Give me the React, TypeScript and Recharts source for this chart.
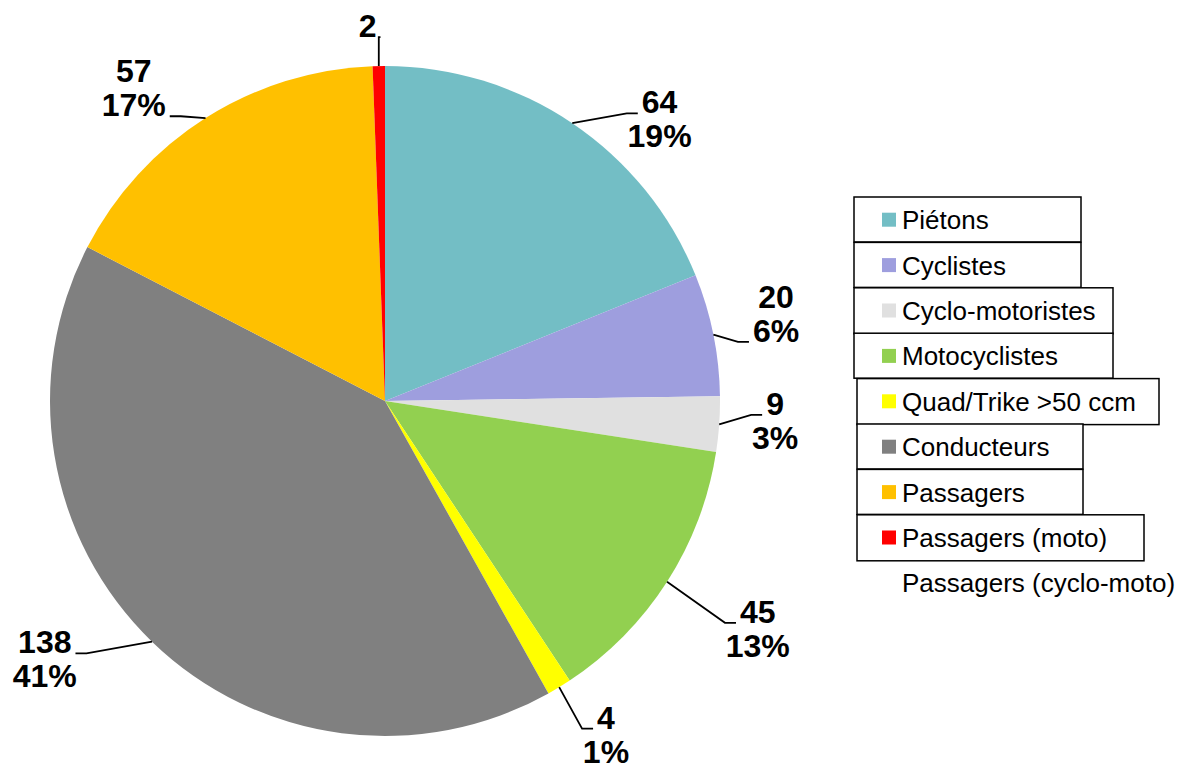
import React from 'react';
import { PieChart, Pie, Cell, Legend } from 'recharts';

const categories = [
  'Piétons',
  'Cyclistes',
  'Cyclo-motoristes',
  'Motocyclistes',
  'Quad/Trike >50 ccm',
  'Conducteurs',
  'Passagers',
  'Passagers (moto)',
  'Passagers (cyclo-moto)',
];
const values = [64, 20, 9, 45, 4, 138, 57, 2, 0];
const colors = ['#73BEC5', '#9E9EDE', '#E0E0E0', '#92D050', '#FFFF00', '#808080', '#FFC000', '#FF0000', 'none'];

// label layout tweaks (offsets from radial position)
const labelNudge: [number, number][] = [
  [51, 44],
  [-1, -14],
  [-9, -14],
  [36, 6],
  [13, -14],
  [-62, -35],
  [-37, 19],
  [-10, 36],
  [0, 0],
];

// legend box layout
const LEG_X = 850;
const LEG_Y = 190;
const legendBoxes: [number, number, number][] = [
  [854, 227, 45],
  [854, 227, 45],
  [854, 259, 46],
  [854, 259, 45],
  [857, 302, 46],
  [857, 226, 45],
  [857, 226, 45],
  [857, 287, 46],
];

const pieData = categories.map((name, i) => ({ name, value: values[i] }));

const FONT = '"Liberation Sans", Arial, Helvetica, sans-serif';
const LBL_FS = 32;
const LINE_GAP = 34;

const textWidth = (s: string) => {
  let w = 0;
  for (const ch of s) {
    if (ch === '%') w += 0.889;
    else w += 0.556;
  }
  return w * LBL_FS;
};

const renderLabel = (props: any) => {
  const { cx, cy, outerRadius, value, index, percent } = props;
  if (!value) return null;
  let midAngle = props.midAngle;
  if (midAngle === undefined) midAngle = (props.startAngle + props.endAngle) / 2;
  const RAD = Math.PI / 180;
  const cos = Math.cos(-midAngle * RAD);
  const sin = Math.sin(-midAngle * RAD);
  const ex = cx + outerRadius * cos;
  const ey = cy + outerRadius * sin;
  const [nx, ny] = labelNudge[index] || [0, 0];
  const tx = cx + 400 * cos + nx;
  const b1 = cy + 400 * sin + ny;
  const lines: string[] = [String(value)];
  if (percent >= 0.01) lines.push(`${Math.round(percent * 100)}%`);
  const baselines = lines.map((_, i) => b1 + i * LINE_GAP);
  let li = 0;
  baselines.forEach((b, i) => {
    if (Math.abs(b - ey) < Math.abs(baselines[li] - ey)) li = i;
  });
  const w = textWidth(lines[li]);
  const right = tx > cx;
  const endX = right ? tx - w / 2 - 4 : tx + w / 2 + 4;
  const elbowX = right ? Math.max(endX - 11, ex) : Math.min(endX + 11, ex);
  const ly = baselines[li];
  return (
    <g key={`lbl-${index}`}>
      <polyline
        points={`${ex},${ey} ${elbowX},${ly} ${endX},${ly}`}
        fill="none"
        stroke="#000"
        strokeWidth={1.8}
      />
      {lines.map((t, i) => (
        <text
          key={i}
          x={tx}
          y={baselines[i]}
          textAnchor="middle"
          fontFamily={FONT}
          fontWeight="bold"
          fontSize={LBL_FS}
          fill="#000"
        >
          {t}
        </text>
      ))}
    </g>
  );
};

const renderLegend = () => {
  const rowH = 45.4;
  const top0 = 197;
  return (
    <svg width={332} height={430} style={{ display: 'block' }}>
      {categories.map((name, i) => {
        const y = top0 + i * rowH;
        const box = legendBoxes[i];
        return (
          <g key={name}>
            {box && (
              <rect
                x={box[0] - LEG_X}
                y={y - LEG_Y}
                width={box[1]}
                height={box[2]}
                fill="#fff"
                stroke="#000"
                strokeWidth={1.5}
              />
            )}
            {colors[i] !== 'none' && (
              <rect x={882 - LEG_X} y={y + rowH / 2 - 7 - LEG_Y} width={14} height={14} fill={colors[i]} />
            )}
            <text
              x={902 - LEG_X}
              y={y + rowH / 2 + 9.5 - LEG_Y}
              fontFamily={FONT}
              fontSize={26}
              fill="#000"
            >
              {name}
            </text>
          </g>
        );
      })}
    </svg>
  );
};

export default function App() {
  return (
    <div style={{ position: 'absolute', left: 0, top: 0, width: 1182, height: 769, background: '#fff' }}>
      <PieChart width={1182} height={769} margin={{ top: 0, right: 0, bottom: 0, left: 0 }}>
        <Pie
          data={pieData}
          dataKey="value"
          nameKey="name"
          cx={385}
          cy={401}
          outerRadius={335}
          startAngle={90}
          endAngle={-270}
          stroke="none"
          label={renderLabel}
          labelLine={false}
          isAnimationActive={false}
        >
          {pieData.map((d, i) => (
            <Cell key={d.name} fill={colors[i] === 'none' ? '#ffffff' : colors[i]} />
          ))}
        </Pie>
        <Legend
          content={renderLegend}
          wrapperStyle={{ position: 'absolute', left: LEG_X, top: LEG_Y, width: 332, height: 430 }}
        />
      </PieChart>
    </div>
  );
}
